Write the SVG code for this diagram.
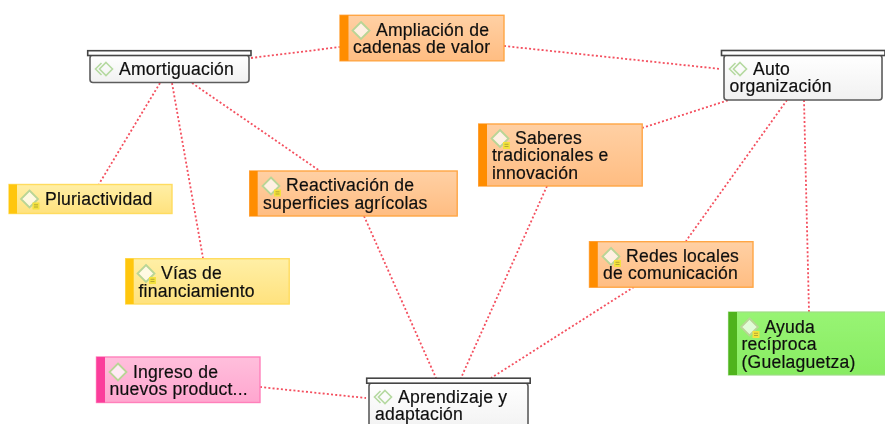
<svg xmlns="http://www.w3.org/2000/svg" width="885" height="424" viewBox="0 0 885 424">
<defs>
<linearGradient id="gy" x1="0" y1="0" x2="0" y2="1"><stop offset="0" stop-color="#ffefa6"/><stop offset="1" stop-color="#ffe27e"/></linearGradient>
<linearGradient id="go" x1="0" y1="0" x2="0" y2="1"><stop offset="0" stop-color="#ffd0a4"/><stop offset="1" stop-color="#ffbd82"/></linearGradient>
<linearGradient id="gp" x1="0" y1="0" x2="0" y2="1"><stop offset="0" stop-color="#ffbfdc"/><stop offset="1" stop-color="#ffa6cf"/></linearGradient>
<linearGradient id="gg" x1="0" y1="0" x2="0" y2="1"><stop offset="0" stop-color="#98f474"/><stop offset="1" stop-color="#88ec62"/></linearGradient>
<linearGradient id="gw" x1="0" y1="0" x2="0" y2="1"><stop offset="0" stop-color="#ffffff"/><stop offset="1" stop-color="#f1f1f1"/></linearGradient>
<filter id="soft" x="-5%" y="-5%" width="110%" height="110%"><feGaussianBlur stdDeviation="0.55"/></filter>
<g id="dia"><path d="M0,-8.500 L8.500,0 L0,8.500 L-8.500,0 Z" fill="#fff" fill-opacity="0.72" stroke="#b9d596" stroke-width="1.800"/></g>
<g id="note"><rect x="-3.500" y="-3.500" width="7" height="7" fill="#f4e23c"/><path d="M-2,-1.200H2M-2,1H2" stroke="#a59a30" stroke-width="0.800"/></g>
<g id="dbl"><path d="M-4.500,-6 L-10.500,0 L-4.500,6 M0,-6.500 L6.500,0 L0,6.500 L-6.500,0 Z" fill="none" stroke="#b5d9a0" stroke-width="1.600"/></g>
</defs>
<style>
text{font-family:"Liberation Sans",Arial,sans-serif;font-size:17.6px;letter-spacing:0.2px;fill:#111;stroke:#111;stroke-width:0.2px}
.c line{stroke:#f4505f;stroke-width:1.800;stroke-dasharray:2 2.200;fill:none}
.y{fill:url(#gy);stroke:#ffdc5e;stroke-width:1.400}
.o{fill:url(#go);stroke:#ffa645;stroke-width:1.400}
.p{fill:url(#gp);stroke:#ff80bb;stroke-width:1.400}
.g{fill:url(#gg);stroke:#9fdc85;stroke-width:1.200}
.yb{fill:#ffc60a}.ob{fill:#ff8d06}.pb{fill:#fb3c9b}.gb{fill:#4fb31f}
.w{fill:url(#gw);stroke:#5c5c5c;stroke-width:1.600}
.t{fill:#fff;stroke:#444;stroke-width:1.600}
</style>
<g filter="url(#soft)">
<g class="c" id="connectors">
<line x1="251" y1="58" x2="340" y2="47"/>
<line x1="504" y1="46" x2="721" y2="69"/>
<line x1="160" y1="83" x2="99" y2="184"/>
<line x1="172" y1="83" x2="203" y2="258"/>
<line x1="192" y1="83" x2="320" y2="171"/>
<line x1="642" y1="128" x2="729" y2="100"/>
<line x1="787" y1="100" x2="686" y2="241"/>
<line x1="804" y1="100" x2="809" y2="312"/>
<line x1="364" y1="216" x2="436" y2="378"/>
<line x1="547" y1="186" x2="461" y2="378"/>
<line x1="634" y1="287" x2="491" y2="378"/>
<line x1="260" y1="387" x2="366" y2="398"/>
</g>
<g id="amortiguacion"><rect class="w" x="90" y="55" width="159" height="27.500" rx="3"/><rect class="t" x="87.700" y="50.700" width="163.300" height="4.800"/><use href="#dbl" x="106" y="69"/><text x="119" y="74.500">Amortiguación</text></g>
<g id="pluriactividad"><rect class="y" x="9" y="184.500" width="163" height="29"/><rect class="yb" x="9" y="184.500" width="8" height="29"/><use href="#dia" x="29.500" y="199"/><use href="#note" x="36" y="206"/><text x="45" y="204.500">Pluriactividad</text></g>
<g id="vias"><rect class="y" x="125.700" y="258.700" width="163.500" height="45.300"/><rect class="yb" x="125.700" y="258.700" width="8" height="45.300"/><use href="#dia" x="146" y="273.500"/><use href="#note" x="152.500" y="280.500"/><text><tspan x="161" y="279">Vías de</tspan><tspan x="138.500" y="296.500">financiamiento</tspan></text></g>
<g id="reactivacion"><rect class="o" x="249.700" y="171" width="207.500" height="45"/><rect class="ob" x="249.700" y="171" width="8" height="45"/><use href="#dia" x="271" y="186"/><use href="#note" x="277.500" y="193"/><text><tspan x="286" y="191">Reactivación de</tspan><tspan x="263" y="209">superficies agrícolas</tspan></text></g>
<g id="ampliacion"><rect class="o" x="340" y="15.300" width="164" height="45.500"/><rect class="ob" x="340" y="15.300" width="8.500" height="45.500"/><use href="#dia" x="361" y="30.500"/><text><tspan x="376" y="35.500">Ampliación de</tspan><tspan x="353" y="53">cadenas de valor</tspan></text></g>
<g id="saberes"><rect class="o" x="478.700" y="124" width="163.500" height="62"/><rect class="ob" x="478.700" y="124" width="8.300" height="62"/><use href="#dia" x="500" y="138.500"/><use href="#note" x="506.500" y="145.500"/><text><tspan x="515" y="143.500">Saberes</tspan><tspan x="492" y="161">tradicionales e</tspan><tspan x="492" y="178.500">innovación</tspan></text></g>
<g id="auto"><rect class="w" x="724" y="55" width="158" height="45" rx="3"/><rect class="t" x="721.500" y="50.500" width="163.500" height="5"/><use href="#dbl" x="740" y="69"/><text><tspan x="753" y="74.500">Auto</tspan><tspan x="729.500" y="92">organización</tspan></text></g>
<g id="redes"><rect class="o" x="589.500" y="241.700" width="163.500" height="45.500"/><rect class="ob" x="589.500" y="241.700" width="8.300" height="45.500"/><use href="#dia" x="611" y="256.500"/><use href="#note" x="617.500" y="263.500"/><text><tspan x="626" y="261.500">Redes locales</tspan><tspan x="603" y="279">de comunicación</tspan></text></g>
<g id="ayuda"><rect class="g" x="728.500" y="312" width="157" height="63"/><rect class="gb" x="728.500" y="312" width="8.500" height="63"/><use href="#dia" x="749.500" y="327"/><use href="#note" x="756" y="334.500"/><text><tspan x="764.500" y="332.500">Ayuda</tspan><tspan x="741.500" y="350">recíproca</tspan><tspan x="741.500" y="367.500">(Guelaguetza)</tspan></text></g>
<g id="ingreso"><rect class="p" x="96.500" y="357" width="163.500" height="45.500"/><rect class="pb" x="96.500" y="357" width="8.500" height="45.500"/><use href="#dia" x="118" y="372"/><text><tspan x="133" y="377.500">Ingreso de</tspan><tspan x="109.500" y="395">nuevos product...</tspan></text></g>
<g id="aprendizaje"><rect class="w" x="369" y="383" width="159" height="50" rx="3"/><rect class="t" x="366.700" y="378.200" width="163.500" height="5"/><use href="#dbl" x="385" y="397"/><text><tspan x="398" y="402.500">Aprendizaje y</tspan><tspan x="375" y="419.500">adaptación</tspan></text></g>
</g>
</svg>
